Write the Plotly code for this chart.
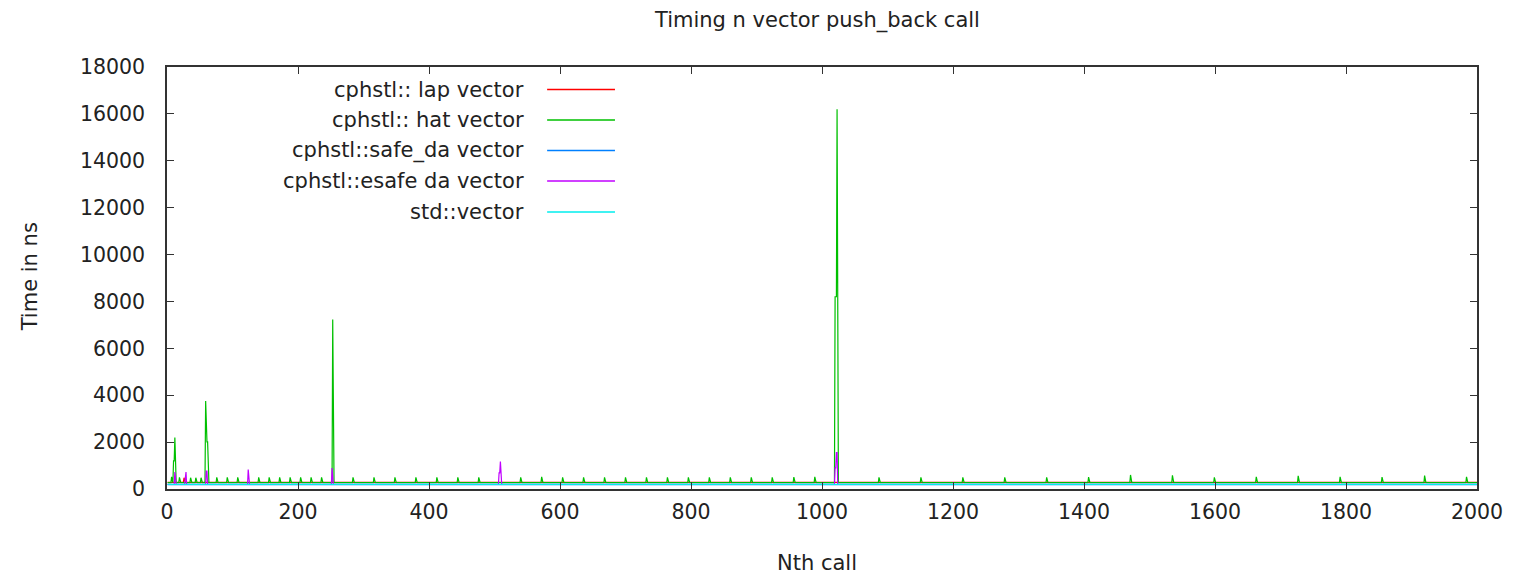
import plotly.graph_objects as go

# ---------------- data ----------------
calls = list(range(1, 2001))          # Nth call

series_names = ["cphstl:: lap vector", "cphstl:: hat vector", "cphstl::safe_da vector",
                "cphstl::esafe da vector", "std::vector"]
series_colors = ["#ff0000", "#00c000", "#0080ff", "#c000ff", "#00eeee"]

# typical (baseline) time per call in ns
lap_base = 280
hat_base = 270
safe_base = 190
esafe_base = 195
std_base = 200

# calls where the time departs from the baseline: {call: ns}
lap_spikes = {26: 480}

hat_big_spikes = {10: 1200, 11: 1200, 12: 2200,
                  59: 3750, 60: 2010, 61: 2010, 62: 2010,
                  253: 7230,
                  1020: 8200, 1021: 8200, 1022: 8200, 1023: 16200}
hat_small_x = [7, 19, 36, 44, 52, 76, 92, 108, 140, 156, 172, 188, 204, 220, 236,
               284, 316, 348, 380, 412, 444, 476, 540, 572, 604, 636, 668, 700, 732,
               764, 796, 828, 860, 892, 924, 957, 989, 1087, 1151, 1215, 1279, 1343,
               1407, 1471, 1535, 1599, 1663, 1727, 1791, 1855, 1920, 1984]
hat_small_y = [520, 500, 480, 480, 480, 500, 500, 500, 500, 500, 500, 500, 500, 500, 500,
               500, 500, 500, 500, 500, 500, 500, 500, 520, 500, 500, 500, 500, 500,
               500, 500, 500, 500, 500, 500, 510, 520, 500, 500, 500, 500, 500,
               510, 600, 580, 500, 520, 560, 520, 510, 570, 520]

safe_spikes = {}

esafe_spikes = {12: 720, 28: 480, 29: 720, 60: 760, 61: 760, 124: 830, 252: 890,
                507: 690, 508: 690, 509: 1170,
                1020: 900, 1021: 900, 1022: 1550, 1023: 1550}

std_spikes = {}

x_ticks = [0, 200, 400, 600, 800, 1000, 1200, 1400, 1600, 1800, 2000]
y_ticks = [0, 2000, 4000, 6000, 8000, 10000, 12000, 14000, 16000, 18000]

# ---------------- build series ----------------
hat_spikes = dict(zip(hat_small_x, hat_small_y))
hat_spikes.update(hat_big_spikes)

def series(base, spikes):
    return [spikes.get(n, base) for n in calls]

values = [series(lap_base, lap_spikes), series(hat_base, hat_spikes),
          series(safe_base, safe_spikes), series(esafe_base, esafe_spikes),
          series(std_base, std_spikes)]

FONT = "DejaVu Sans"
TXT = "#222222"

fig = go.Figure()
for name, col, vals in zip(series_names, series_colors, values):
    fig.add_trace(go.Scatter(x=calls, y=vals, mode="lines", name=name,
                             line=dict(color=col, width=1.2), showlegend=False))

W, H = 1515, 579
L, R, T, B = 167, 35, 67, 90
pw, ph = W - L - R, H - T - B

def px_x(p):
    return (p - L) / pw

def px_y(p):
    return (H - B - p) / ph

# manual gnuplot-style legend: right aligned text, sample line on the right
legend_rows = [89.5, 120, 150.5, 181, 212]
ann = []
shapes = []
for name, col, ry in zip(series_names, series_colors, legend_rows):
    ann.append(dict(x=px_x(527), y=px_y(ry), xref="paper", yref="paper", text=name,
                    showarrow=False, xanchor="right", yanchor="middle",
                    font=dict(family=FONT, size=21, color=TXT)))
    shapes.append(dict(type="line", xref="paper", yref="paper",
                       x0=px_x(548), x1=px_x(616), y0=px_y(ry), y1=px_y(ry),
                       line=dict(color=col, width=1.5)))

ann.append(dict(x=px_x(818), y=px_y(20), xref="paper", yref="paper",
                text="Timing n vector push_back call", showarrow=False,
                xanchor="center", yanchor="middle",
                font=dict(family=FONT, size=21, color=TXT)))
ann.append(dict(x=px_x(818), y=px_y(563), xref="paper", yref="paper",
                text="Nth call", showarrow=False, xanchor="center", yanchor="middle",
                font=dict(family=FONT, size=21, color=TXT)))
ann.append(dict(x=px_x(30), y=px_y(277), xref="paper", yref="paper",
                text="Time in ns", showarrow=False, textangle=-90,
                xanchor="center", yanchor="middle",
                font=dict(family=FONT, size=21, color=TXT)))

axis_common = dict(showgrid=False, zeroline=False, showline=True, linecolor="#333333",
                   linewidth=1.5, mirror="ticks", ticks="inside", ticklen=7,
                   tickwidth=1.2, tickcolor="#333333",
                   tickfont=dict(family=FONT, size=20.5, color=TXT))

fig.update_layout(
    width=W, height=H,
    margin=dict(l=L, r=R, t=T, b=B, pad=0),
    paper_bgcolor="white", plot_bgcolor="white",
    xaxis=dict(range=[0, 2000], tickvals=x_ticks, ticktext=[str(v) for v in x_ticks],
               ticklabelstandoff=4, **axis_common),
    yaxis=dict(range=[0, 18000], tickvals=y_ticks, ticktext=[str(v) for v in y_ticks],
               ticklabelstandoff=16, **axis_common),
    annotations=ann, shapes=shapes,
)

fig.write_html("out.html")
